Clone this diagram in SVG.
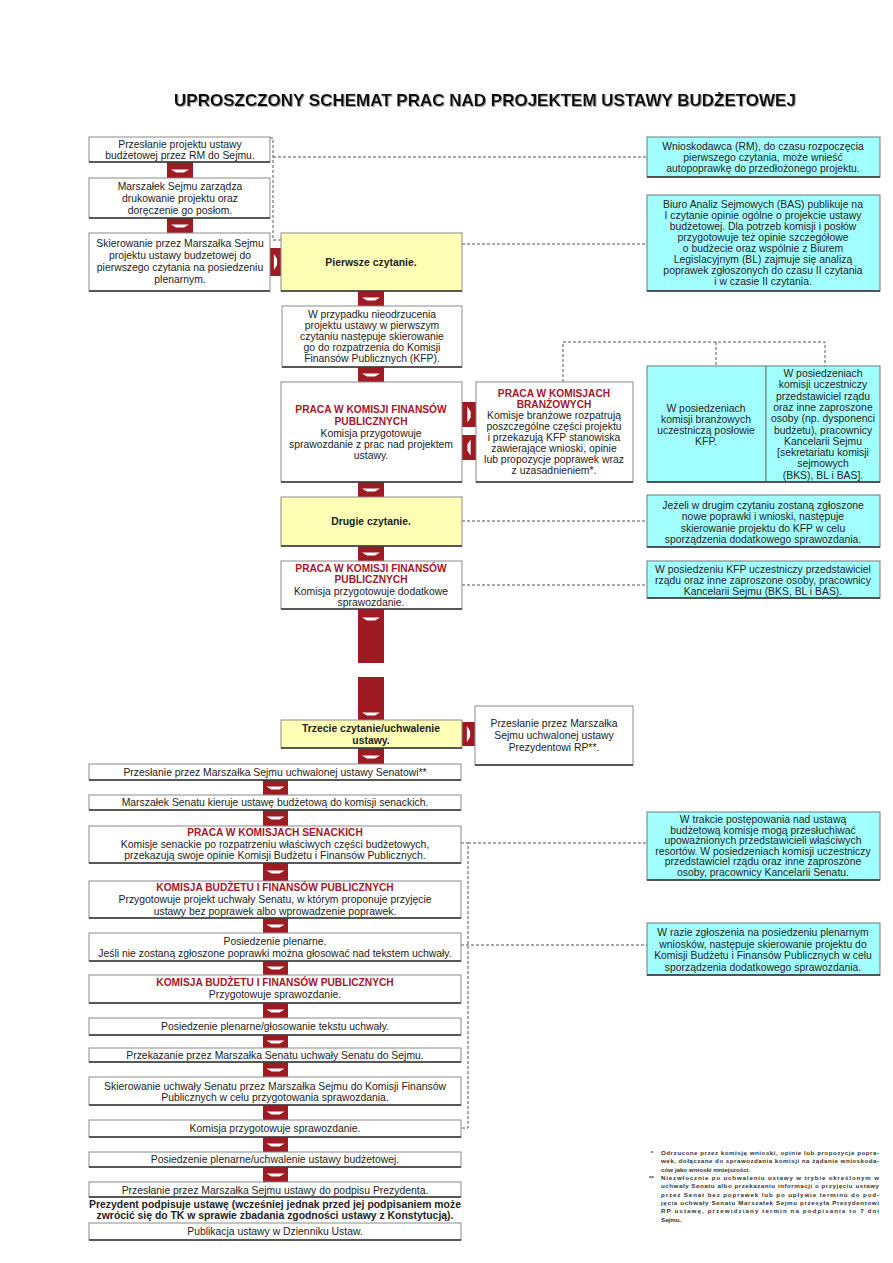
<svg xmlns="http://www.w3.org/2000/svg" xmlns:xlink="http://www.w3.org/1999/xlink" width="893" height="1263" viewBox="0 0 893 1263">
<style>
text{font-family:"Liberation Sans",Arial,sans-serif;font-size:10.4px;fill:#222;text-anchor:middle}
.title{font-size:17px;font-weight:bold;fill:#111}
.b{font-weight:bold}
.h{font-weight:bold;fill:#A3162A;font-size:10.2px}
.fn{font-size:6.2px;font-weight:bold;text-anchor:start;fill:#333}
.box{fill:#fff;stroke:#8a8a8a;stroke-width:1}
.yel{fill:#FFFFB5;stroke:#8a8a8a;stroke-width:1}
.cy{fill:#A2FFFF;stroke:#6a7a7a;stroke-width:1}
.sh{stroke:#333;stroke-width:1.6;fill:none}
.tab{fill:#9E1B23}
.chev{fill:#fff}
.dash{fill:none;stroke:#555;stroke-width:1;stroke-dasharray:3 2}
</style>
<defs>
<path id="chevD" class="chev" d="M-9,-1.6 H9 L4,1.6 H-4 Z"/>
<path id="chevR" class="chev" d="M-1.6,-8 V8 L1.6,3 V-3 Z"/>
<path id="chevL" class="chev" d="M1.6,-8 V8 L-1.6,3 V-3 Z"/>
<filter id="ts" x="-5%" y="-30%" width="110%" height="160%"><feDropShadow dx="1" dy="1" stdDeviation="0.6" flood-color="#888" flood-opacity="0.8"/></filter>
</defs>

<text class="title" x="485" y="106" filter="url(#ts)">UPROSZCZONY SCHEMAT PRAC NAD PROJEKTEM USTAWY BUDŻETOWEJ</text>

<g id="connectors">
<path class="dash" d="M270,138 H273 V240 H281"/>
<path class="dash" d="M273,157 H647"/>
<path class="dash" d="M462,244 H647"/>
<path class="dash" d="M563,382 V342 H825 V366"/>
<path class="dash" d="M716,342 V366"/>
<path class="dash" d="M462,521 H647"/>
<path class="dash" d="M462,585 H647"/>
<path class="dash" d="M461,843 H468 V1128 H461"/>
<path class="dash" d="M468,843 H647"/>
<path class="dash" d="M461,945 H647"/>
<!-- red flow tabs -->
<rect class="tab" x="167" y="162" width="26" height="16"/><use xlink:href="#chevD" x="180" y="171"/>
<rect class="tab" x="167" y="218" width="26" height="15"/><use xlink:href="#chevD" x="180" y="226"/>
<rect class="tab" x="270" y="248" width="11" height="28"/><use xlink:href="#chevR" x="275.5" y="262"/>
<rect class="tab" x="358" y="291" width="26" height="15"/><use xlink:href="#chevD" x="371" y="299"/>
<rect class="tab" x="358" y="367" width="26" height="15"/><use xlink:href="#chevD" x="371" y="375"/>
<rect class="tab" x="462" y="402" width="14" height="25"/><use xlink:href="#chevR" x="469" y="414.5"/>
<rect class="tab" x="462" y="435" width="14" height="25"/><use xlink:href="#chevL" x="469" y="447.5"/>
<rect class="tab" x="358" y="482" width="26" height="15"/><use xlink:href="#chevD" x="371" y="490"/>
<rect class="tab" x="358" y="546" width="26" height="15"/><use xlink:href="#chevD" x="371" y="554"/>
<rect class="tab" x="358" y="609" width="26" height="54"/><use xlink:href="#chevD" x="371" y="619"/>
<rect class="tab" x="358" y="677" width="26" height="44"/><use xlink:href="#chevD" x="371" y="714"/>
<rect class="tab" x="462" y="722" width="13" height="24"/><use xlink:href="#chevR" x="468.5" y="734"/>
<rect class="tab" x="358" y="748" width="26" height="16"/><use xlink:href="#chevD" x="371" y="757"/>
<rect class="tab" x="263" y="780" width="25" height="15"/><use xlink:href="#chevD" x="275.5" y="788"/>
<rect class="tab" x="263" y="810" width="25" height="16"/><use xlink:href="#chevD" x="275.5" y="818"/>
<rect class="tab" x="263" y="863" width="25" height="18"/><use xlink:href="#chevD" x="275.5" y="872"/>
<rect class="tab" x="263" y="918" width="25" height="15"/><use xlink:href="#chevD" x="275.5" y="926"/>
<rect class="tab" x="263" y="961" width="25" height="14"/><use xlink:href="#chevD" x="275.5" y="968"/>
<rect class="tab" x="263" y="1003" width="25" height="15"/><use xlink:href="#chevD" x="275.5" y="1011"/>
<rect class="tab" x="263" y="1035" width="25" height="13"/><use xlink:href="#chevD" x="275.5" y="1042"/>
<rect class="tab" x="263" y="1062" width="25" height="15"/><use xlink:href="#chevD" x="275.5" y="1070"/>
<rect class="tab" x="263" y="1105" width="25" height="15"/><use xlink:href="#chevD" x="275.5" y="1113"/>
<rect class="tab" x="263" y="1137" width="25" height="15"/><use xlink:href="#chevD" x="275.5" y="1145"/>
<rect class="tab" x="263" y="1167" width="25" height="15"/><use xlink:href="#chevD" x="275.5" y="1175"/>
</g>

<g id="n1"><rect class="box" x="89" y="137" width="181" height="25"/><path class="sh" d="M89,162 H270"/>
<text x="180" y="148">Przesłanie projektu ustawy</text><text x="180" y="159">budżetowej przez RM do Sejmu.</text></g>
<g id="n2"><rect class="box" x="89" y="178" width="181" height="40"/><path class="sh" d="M89,218 H270"/>
<text x="180" y="190">Marszałek Sejmu zarządza</text><text x="180" y="202">drukowanie projektu oraz</text><text x="180" y="214">doręczenie go posłom.</text></g>
<g id="n3"><rect class="box" x="89" y="233" width="181" height="58"/><path class="sh" d="M89,291 H270"/>
<text x="180" y="247">Skierowanie przez Marszałka Sejmu</text><text x="180" y="259">projektu ustawy budzetowej do</text><text x="180" y="271">pierwszego czytania na posiedzeniu</text><text x="180" y="283">plenarnym.</text></g>

<g id="n4"><rect class="yel" x="281" y="233" width="181" height="58"/><path class="sh" d="M281,291 H462"/>
<text class="b" x="371" y="266">Pierwsze czytanie.</text></g>
<g id="n5"><rect class="box" x="282" y="306" width="180" height="61"/><path class="sh" d="M282,367 H462"/>
<text x="372" y="318">W przypadku nieodrzucenia</text><text x="372" y="329">projektu ustawy w pierwszym</text><text x="372" y="340">czytaniu następuje skierowanie</text><text x="372" y="351">go do rozpatrzenia do Komisji</text><text x="372" y="362">Finansów Publicznych (KFP).</text></g>
<g id="n6"><rect class="box" x="281" y="382" width="181" height="100"/><path class="sh" d="M281,482 H462"/>
<text class="h" x="371" y="413">PRACA W KOMISJI FINANSÓW</text><text class="h" x="371" y="425">PUBLICZNYCH</text>
<text x="371" y="437">Komisja przygotowuje</text><text x="371" y="448">sprawozdanie z prac nad projektem</text><text x="371" y="459">ustawy.</text></g>
<g id="n7"><rect class="box" x="476" y="382" width="157" height="100"/><path class="sh" d="M476,482 H633"/>
<text class="h" x="554" y="397">PRACA W KOMISJACH</text><text class="h" x="554" y="408">BRANŻOWYCH</text>
<text x="554" y="419">Komisje branżowe rozpatrują</text><text x="554" y="430">poszczególne części projektu</text><text x="554" y="441">i przekazują KFP stanowiska</text><text x="554" y="452">zawierające wnioski, opinie</text><text x="554" y="463">lub propozycje poprawek wraz</text><text x="554" y="474">z uzasadnieniem*.</text></g>

<g id="n8"><rect class="cy" x="647" y="137" width="233" height="40"/><path class="sh" d="M647,177 H880"/>
<text x="763" y="150">Wnioskodawca (RM), do czasu rozpoczęcia</text><text x="763" y="161">pierwszego czytania, może wnieść</text><text x="763" y="172">autopoprawkę do przedłożonego projektu.</text></g>
<g id="n9"><rect class="cy" x="647" y="195" width="233" height="96"/><path class="sh" d="M647,291 H880"/>
<text x="763" y="208">Biuro Analiz Sejmowych (BAS) publikuje na</text><text x="763" y="219">I czytanie opinie ogólne o projekcie ustawy</text><text x="763" y="230">budżetowej. Dla potrzeb komisji i posłów</text><text x="763" y="241">przygotowuje też opinie szczegółowe</text><text x="763" y="252">o budżecie oraz wspólnie z Biurem</text><text x="763" y="263">Legislacyjnym (BL) zajmuje się analizą</text><text x="763" y="274">poprawek zgłoszonych do czasu II czytania</text><text x="763" y="285">i w czasie II czytania.</text></g>
<g id="n10"><rect class="cy" x="647" y="366" width="119" height="116"/><path class="sh" d="M647,482 H766"/>
<text x="706" y="412">W posiedzeniach</text><text x="706" y="423">komisji branżowych</text><text x="706" y="434">uczestniczą posłowie</text><text x="706" y="445">KFP.</text></g>
<g id="n11"><rect class="cy" x="766" y="366" width="114" height="116"/><path class="sh" d="M766,482 H880"/>
<text x="823" y="377">W posiedzeniach</text><text x="823" y="388.3">komisji uczestniczy</text><text x="823" y="399.6">przedstawiciel rządu</text><text x="823" y="410.9">oraz inne zaproszone</text><text x="823" y="422.2">osoby (np. dysponenci</text><text x="823" y="433.5">budżetu), pracownicy</text><text x="823" y="444.8">Kancelarii Sejmu</text><text x="823" y="456.1">[sekretariatu komisji</text><text x="823" y="467.4">sejmowych</text><text x="823" y="478.7">(BKS), BL i BAS].</text></g>

<g id="n12"><rect class="yel" x="281" y="497" width="181" height="49"/><path class="sh" d="M281,546 H462"/>
<text class="b" x="371" y="525">Drugie czytanie.</text></g>
<g id="n13"><rect class="cy" x="647" y="495" width="233" height="52"/><path class="sh" d="M647,547 H880"/>
<text x="763" y="508.5">Jeżeli w drugim czytaniu zostaną zgłoszone</text><text x="763" y="520">nowe poprawki i wnioski, następuje</text><text x="763" y="531.5">skierowanie projektu do KFP w celu</text><text x="763" y="543">sporządzenia dodatkowego sprawozdania.</text></g>
<g id="n14"><rect class="box" x="281" y="561" width="181" height="48"/><path class="sh" d="M281,609 H462"/>
<text class="h" x="371" y="572">PRACA W KOMISJI FINANSÓW</text><text class="h" x="371" y="583">PUBLICZNYCH</text>
<text x="371" y="595">Komisja przygotowuje dodatkowe</text><text x="371" y="606">sprawozdanie.</text></g>
<g id="n15"><rect class="cy" x="647" y="561" width="233" height="37"/><path class="sh" d="M647,598 H880"/>
<text x="763" y="573">W posiedzeniu KFP uczestniczy przedstawiciel</text><text x="763" y="584">rządu oraz inne zaproszone osoby, pracownicy</text><text x="763" y="595">Kancelarii Sejmu (BKS, BL i BAS).</text></g>

<g id="n16"><rect class="yel" x="281" y="720" width="181" height="28"/><path class="sh" d="M281,748 H462"/>
<text class="b" x="371" y="732">Trzecie czytanie/uchwalenie</text><text class="b" x="371" y="744">ustawy.</text></g>
<g id="n17"><rect class="box" x="475" y="706" width="158" height="59"/><path class="sh" d="M475,765 H633"/>
<text x="554" y="727">Przesłanie przez Marszałka</text><text x="554" y="739">Sejmu uchwalonej ustawy</text><text x="554" y="751">Prezydentowi RP**.</text></g>

<g id="n18"><rect class="box" x="89" y="764" width="372" height="16"/><path class="sh" d="M89,780 H461"/>
<text x="275" y="776">Przesłanie przez Marszałka Sejmu uchwalonej ustawy Senatowi**</text></g>
<g id="n19"><rect class="box" x="89" y="795" width="372" height="15"/><path class="sh" d="M89,810 H461"/>
<text x="275" y="806">Marszałek Senatu kieruje ustawę budżetową do komisji senackich.</text></g>
<g id="n20"><rect class="box" x="89" y="826" width="372" height="37"/><path class="sh" d="M89,863 H461"/>
<text class="h" x="275" y="836">PRACA W KOMISJACH SENACKICH</text><text x="275" y="847.5">Komisje senackie po rozpatrzeniu właściwych części budżetowych,</text><text x="275" y="859">przekazują swoje opinie Komisji Budżetu i Finansów Publicznych.</text></g>
<g id="n21"><rect class="box" x="89" y="881" width="372" height="37"/><path class="sh" d="M89,918 H461"/>
<text class="h" x="275" y="891">KOMISJA BUDŻETU I FINANSÓW PUBLICZNYCH</text><text x="275" y="903">Przygotowuje projekt uchwały Senatu, w którym proponuje przyjęcie</text><text x="275" y="915">ustawy bez poprawek albo wprowadzenie poprawek.</text></g>
<g id="n22"><rect class="box" x="89" y="933" width="372" height="28"/><path class="sh" d="M89,961 H461"/>
<text x="275" y="945">Posiedzenie plenarne.</text><text x="275" y="957">Jeśli nie zostaną zgłoszone poprawki można głosować nad tekstem uchwały.</text></g>
<g id="n23"><rect class="box" x="89" y="975" width="372" height="28"/><path class="sh" d="M89,1003 H461"/>
<text class="h" x="275" y="986">KOMISJA BUDŻETU I FINANSÓW PUBLICZNYCH</text><text x="275" y="998">Przygotowuje sprawozdanie.</text></g>
<g id="n24"><rect class="box" x="89" y="1018" width="372" height="17"/><path class="sh" d="M89,1035 H461"/>
<text x="275" y="1030">Posiedzenie plenarne/głosowanie tekstu uchwały.</text></g>
<g id="n25"><rect class="box" x="89" y="1048" width="372" height="14"/><path class="sh" d="M89,1062 H461"/>
<text x="275" y="1059">Przekazanie przez Marszałka Senatu uchwały Senatu do Sejmu.</text></g>
<g id="n26"><rect class="box" x="89" y="1077" width="372" height="28"/><path class="sh" d="M89,1105 H461"/>
<text x="275" y="1090">Skierowanie uchwały Senatu przez Marszałka Sejmu do Komisji Finansów</text><text x="275" y="1101">Publicznych w celu przygotowania sprawozdania.</text></g>
<g id="n27"><rect class="box" x="89" y="1120" width="372" height="17"/><path class="sh" d="M89,1137 H461"/>
<text x="275" y="1131.5">Komisja przygotowuje sprawozdanie.</text></g>
<g id="n28"><rect class="box" x="89" y="1152" width="372" height="15"/><path class="sh" d="M89,1167 H461"/>
<text x="275" y="1163">Posiedzenie plenarne/uchwalenie ustawy budżetowej.</text></g>
<g id="n29"><rect class="box" x="89" y="1182" width="372" height="15"/><path class="sh" d="M89,1197 H461"/>
<text x="275" y="1193.5">Przesłanie przez Marszałka Sejmu ustawy do podpisu Prezydenta.</text></g>
<g id="n30"><text class="b" x="275" y="1208">Prezydent podpisuje ustawę (wcześniej jednak przed jej podpisaniem może</text><text class="b" x="275" y="1219">zwrócić się do TK w sprawie zbadania zgodności ustawy z Konstytucją).</text></g>
<g id="n31"><rect class="box" x="89" y="1223" width="372" height="17"/><path class="sh" d="M89,1240 H461"/>
<text x="275" y="1235">Publikacja ustawy w Dzienniku Ustaw.</text></g>

<g id="n32"><rect class="cy" x="647" y="812" width="233" height="68"/><path class="sh" d="M647,880 H880"/>
<text x="763" y="823">W trakcie postępowania nad ustawą</text><text x="763" y="833.6">budżetową komisje mogą przesłuchiwać</text><text x="763" y="844.2">upoważnionych przedstawicieli właściwych</text><text x="763" y="854.8">resortów. W posiedzeniach komisji uczestniczy</text><text x="763" y="865.4">przedstawiciel rządu oraz inne zaproszone</text><text x="763" y="876">osoby, pracownicy Kancelarii Senatu.</text></g>
<g id="n33"><rect class="cy" x="647" y="923" width="233" height="52"/><path class="sh" d="M647,975 H880"/>
<text x="763" y="936">W razie zgłoszenia na posiedzeniu plenarnym</text><text x="763" y="947.5">wniosków, następuje skierowanie projektu do</text><text x="763" y="959">Komisji Budżetu i Finansów Publicznych w celu</text><text x="763" y="970.5">sporządzenia dodatkowego sprawozdania.</text></g>

<g id="footnotes">
<text class="fn" x="651" y="1155">*</text>
<text class="fn" x="661" y="1155" textLength="218" lengthAdjust="spacing">Odrzucone przez komisję wnioski, opinie lub propozycje popra-</text>
<text class="fn" x="661" y="1163.3" textLength="218" lengthAdjust="spacing">wek, dołączane do sprawozdania komisji na żądanie wnioskoda-</text>
<text class="fn" x="661" y="1171.6">ców jako wnioski mniejszości.</text>
<text class="fn" x="649" y="1180">**</text>
<text class="fn" x="661" y="1180" textLength="218" lengthAdjust="spacing">Niezwłocznie po uchwaleniu ustawy w trybie określonym w</text>
<text class="fn" x="661" y="1188.3" textLength="218" lengthAdjust="spacing">uchwały Senatu albo przekazaniu informacji o przyjęciu ustawy</text>
<text class="fn" x="661" y="1196.6" textLength="218" lengthAdjust="spacing">przez Senat bez poprawek lub po upływie terminu do pod-</text>
<text class="fn" x="661" y="1204.9" textLength="218" lengthAdjust="spacing">jęcia uchwały Senatu Marszałek Sejmu przesyła Prezydentowi</text>
<text class="fn" x="661" y="1213.2" textLength="218" lengthAdjust="spacing">RP ustawę, przewidziany termin na podpisanie to 7 dni</text>
<text class="fn" x="661" y="1221.5">Sejmu.</text>
</g>
</svg>
